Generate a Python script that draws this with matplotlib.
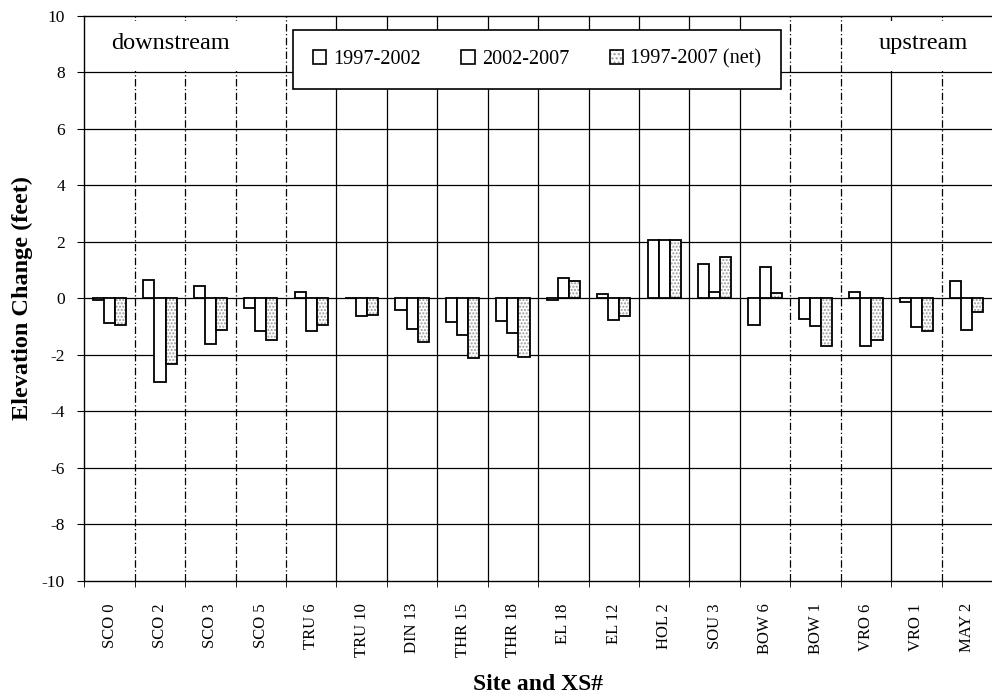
import numpy as np
import matplotlib
matplotlib.use("Agg")
import matplotlib.pyplot as plt
from matplotlib.patches import Patch, Rectangle
from matplotlib.legend_handler import HandlerTuple

plt.rcParams['font.family'] = ['Liberation Serif', 'DejaVu Serif']
plt.rcParams['axes.unicode_minus'] = False

# cross sections, downstream -> upstream
sites = ["SCO 0", "SCO 2", "SCO 3", "SCO 5", "TRU 6", "TRU 10", "DIN 13",
         "THR 15", "THR 18", "EL 18", "EL 12", "HOL 2", "SOU 3", "BOW 6",
         "BOW 1", "VRO 6", "VRO 1", "MAY 2"]

# elevation change (feet)
chg_97_02 = [-0.05, 0.66, 0.45, -0.33, 0.21, 0.0, -0.42, -0.84, -0.81,
             -0.05, 0.14, 2.07, 1.21, -0.93, -0.72, 0.21, -0.14, 0.60]
chg_02_07 = [-0.88, -2.97, -1.63, -1.16, -1.14, -0.63, -1.10, -1.30, -1.21,
             0.71, -0.77, 2.05, 0.22, 1.12, -0.98, -1.70, -1.02, -1.12]
chg_97_07 = [-0.95, -2.33, -1.12, -1.48, -0.94, -0.60, -1.53, -2.12, -2.06,
             0.62, -0.63, 2.07, 1.47, 0.19, -1.69, -1.48, -1.15, -0.49]

# grid boundaries that came out dashed in the scan
dashed_bounds = [0, 1, 2, 3, 13, 14, 16]

fig = plt.figure(figsize=(9.92, 7.0), dpi=100)
ax = fig.add_axes([0.085, 0.17, 0.915, 0.8076])

x = np.arange(len(sites))
w = 0.22

# horizontal grid
for yv in np.arange(-8, 10, 2):
    ax.axhline(yv, color='black', lw=0.9, zorder=1)
# vertical grid at category boundaries
for i in range(len(sites) - 1):
    ls = (0, (6, 2, 1, 2)) if i in dashed_bounds else '-'
    ax.axvline(i + 0.5, color='black', lw=0.9, ls=ls, zorder=1)

ax.bar(x - w, chg_97_02, w, facecolor='white', edgecolor='black', lw=1.3, zorder=3)
ax.bar(x, chg_02_07, w, facecolor='white', edgecolor='black', lw=1.3, zorder=3)
ax.bar(x + w, chg_97_07, w, facecolor='white', edgecolor='#9a9a9a', hatch='.....',
       lw=0, zorder=3)
ax.bar(x + w, chg_97_07, w, fill=False, edgecolor='black', lw=1.3, zorder=4)

ax.set_ylim(-10, 10)
ax.set_xlim(-0.5, 17.39)
ax.set_yticks(np.arange(-10, 11, 2))
ax.set_xticks(x)
ax.set_xticklabels(sites, rotation=90, fontsize=12)
ax.set_xticks(np.arange(-0.5, len(sites), 1), minor=True)
ax.tick_params(axis='x', which='major', length=0, pad=16)
ax.tick_params(axis='x', which='minor', length=4, direction='out')
ax.tick_params(axis='y', labelsize=12.5, length=5, direction='out', pad=9)

for s in ['left', 'top', 'bottom']:
    ax.spines[s].set_color('black')
    ax.spines[s].set_linewidth(1.0)
ax.spines['right'].set_visible(False)

ax.set_ylabel("Elevation Change (feet)", fontsize=17.5, fontweight='bold', labelpad=6)
ax.set_xlabel("Site and XS#", fontsize=17, fontweight='bold', labelpad=12)

# white panels behind the direction labels
ax.add_patch(Rectangle((-0.47, 8.05), 3.9, 1.75, facecolor='white',
                       edgecolor='none', zorder=2))
ax.add_patch(Rectangle((15.05, 8.05), 2.5, 1.75, facecolor='white',
                       edgecolor='none', zorder=2))
ax.text(1.21, 9.0, "downstream", fontsize=17.5, ha='center', va='center', zorder=5)
ax.text(16.13, 9.0, "upstream", fontsize=17.5, ha='center', va='center', zorder=5)

handles = [Patch(facecolor='white', edgecolor='black', lw=1.2),
           Patch(facecolor='white', edgecolor='black', lw=1.2),
           (Patch(facecolor='white', edgecolor='#9a9a9a', hatch='....', lw=0),
            Patch(fill=False, edgecolor='black', lw=1.2))]
leg = ax.legend(handles, ["1997-2002", "2002-2007", "1997-2007 (net)"],
                handler_map={tuple: HandlerTuple(ndivide=1, pad=0)},
                ncol=3, loc='upper left', bbox_to_anchor=(0.23, 0.975),
                fontsize=14.6, handlelength=0.65, handleheight=0.65,
                handletextpad=0.35, columnspacing=2.0, borderpad=0.98,
                borderaxespad=0, fancybox=False,
                framealpha=1, edgecolor='black')
leg.get_frame().set_linewidth(1.2)
leg.set_zorder(6)

fig.savefig("out.png", dpi=100)
